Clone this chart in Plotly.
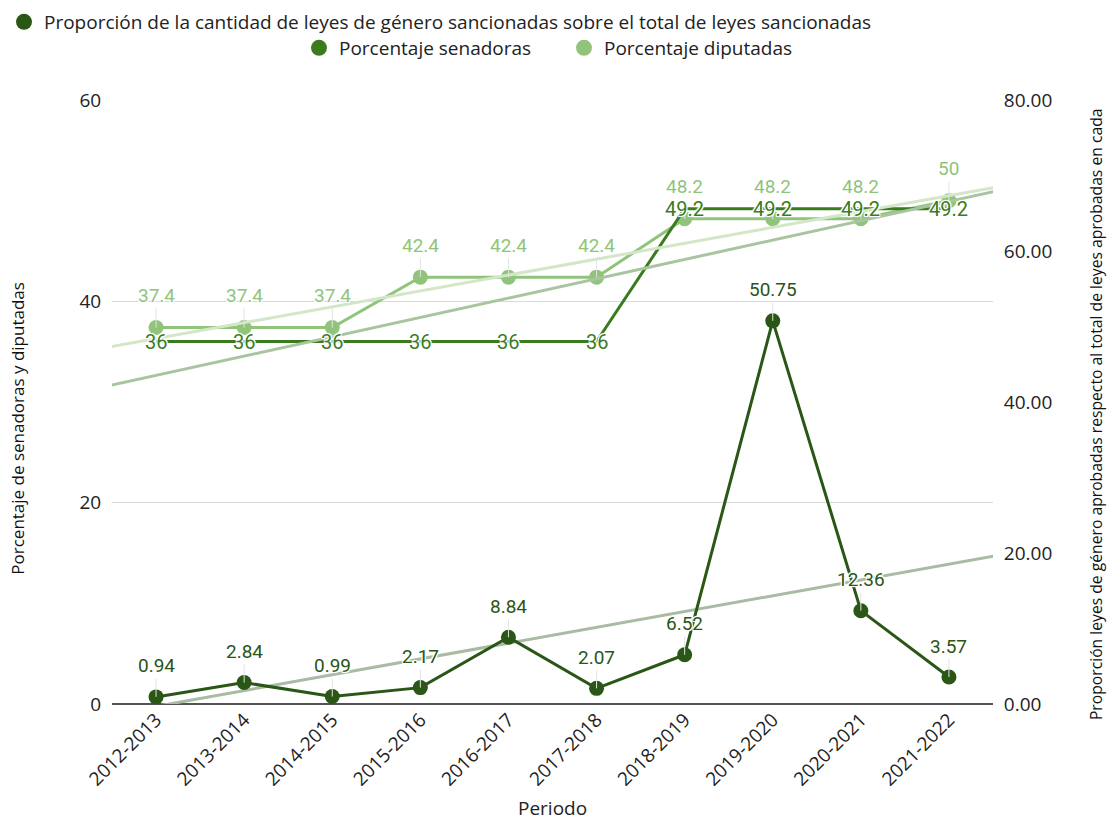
import numpy as np
import plotly.graph_objects as go

periodos = ["2012-2013", "2013-2014", "2014-2015", "2015-2016", "2016-2017",
            "2017-2018", "2018-2019", "2019-2020", "2020-2021", "2021-2022"]
proporcion = [0.94, 2.84, 0.99, 2.17, 8.84, 2.07, 6.52, 50.75, 12.36, 3.57]
senadoras = [36, 36, 36, 36, 36, 36, 49.2, 49.2, 49.2, 49.2]
diputadas = [37.4, 37.4, 37.4, 42.4, 42.4, 42.4, 48.2, 48.2, 48.2, 50]

C_PROP = "#2a5616"
C_SEN = "#3a7b1e"
C_DIP = "#8fc47a"
C_T_DIP = "#d3e6c6"
C_T_SEN = "#a9c5a0"
C_T_PROP = "#a9bba2"
FONT = "Open Sans"
LABEL_FONT = "Roboto"
HALO = "-1px -1px 0 #fff, 1px -1px 0 #fff, -1px 1px 0 #fff, 1px 1px 0 #fff, 0 0 3px #fff"

xs = np.arange(len(periodos))
xt = np.array([-0.6, len(periodos) - 0.4])


def trend(vals):
    m, b = np.polyfit(xs, vals, 1)
    return m * xt + b


fig = go.Figure()

fig.add_trace(go.Scatter(x=xs, y=diputadas, mode="lines+markers", line=dict(color=C_DIP, width=3),
                         marker=dict(size=15, color=C_DIP), showlegend=False, name="Porcentaje diputadas"))
fig.add_trace(go.Scatter(x=xs, y=senadoras, mode="lines", line=dict(color=C_SEN, width=3),
                         showlegend=False, name="Porcentaje senadoras"))
fig.add_trace(go.Scatter(x=xt, y=trend(diputadas), mode="lines", line=dict(color=C_T_DIP, width=3),
                         showlegend=False, hoverinfo="skip"))
fig.add_trace(go.Scatter(x=xt, y=trend(senadoras), mode="lines", line=dict(color=C_T_SEN, width=3),
                         showlegend=False, hoverinfo="skip"))
fig.add_trace(go.Scatter(x=xt, y=trend(proporcion), mode="lines", line=dict(color=C_T_PROP, width=3),
                         yaxis="y2", showlegend=False, hoverinfo="skip"))
fig.add_trace(go.Scatter(x=xs, y=proporcion, mode="lines+markers", line=dict(color=C_PROP, width=3),
                         marker=dict(size=15, color=C_PROP), yaxis="y2", showlegend=False,
                         name="Proporción"))

fig.add_trace(go.Scatter(x=[None], y=[None], mode="markers", marker=dict(size=20, color=C_PROP),
                         name="Proporción de la cantidad de leyes de género sancionadas sobre el total de leyes sancionadas",
                         legend="legend"))
fig.add_trace(go.Scatter(x=[None], y=[None], mode="markers", marker=dict(size=20, color=C_SEN),
                         name="Porcentaje senadoras", legend="legend2"))
fig.add_trace(go.Scatter(x=[None], y=[None], mode="markers", marker=dict(size=20, color=C_DIP),
                         name="Porcentaje diputadas", legend="legend2"))

LBL = 19
annotations = []
for i, v in enumerate(diputadas):
    annotations.append(dict(x=i, y=v, xref="x", yref="y", text=f"{v:g}", showarrow=True,
                            arrowhead=0, arrowwidth=1, arrowcolor="#e2e2e2", ax=0, ay=-32,
                            font=dict(family=LABEL_FONT, size=LBL, color=C_DIP, shadow=HALO)))
for i, v in enumerate(senadoras):
    annotations.append(dict(x=i, y=v, xref="x", yref="y", text=f"{v:g}", showarrow=False,
                            font=dict(family=LABEL_FONT, size=LBL + 1, color=C_SEN, shadow=HALO)))
for i, v in enumerate(proporcion):
    annotations.append(dict(x=i, y=v, xref="x", yref="y2", text=f"{v:.2f}", showarrow=True,
                            arrowhead=0, arrowwidth=1, arrowcolor="#e2e2e2", ax=0, ay=-31,
                            font=dict(family=LABEL_FONT, size=LBL, color=C_PROP, shadow=HALO)))

# axis titles
annotations.append(dict(text="Porcentaje de senadoras y diputadas", xref="paper", yref="paper",
                        x=-0.107, y=0.457, xanchor="center", yanchor="middle",
                        showarrow=False, textangle=-90, font=dict(size=17, color="#111")))
annotations.append(dict(text="Proporción leyes de género aprobadas respecto al total de leyes aprobadas en cada",
                        xref="paper", yref="paper", x=1.1169, y=0.48, xanchor="center", yanchor="middle",
                        showarrow=False, textangle=-90, font=dict(size=15.7, color="#111")))
annotations.append(dict(text="Periodo", xref="paper", yref="paper", x=0.5, y=-0.1722,
                        xanchor="center", yanchor="middle",
                        showarrow=False, font=dict(size=19, color="#222")))

W, H = 1107, 821
fig.update_layout(
    width=W, height=H,
    margin=dict(l=112, r=114, t=100, b=117, autoexpand=False),
    plot_bgcolor="white", paper_bgcolor="white",
    font=dict(family=FONT, size=19, color="#222"),
    annotations=annotations,
    legend=dict(orientation="h", xref="container", x=4 / W, xanchor="left",
                yref="container", y=1 - 3 / H, yanchor="top", bgcolor="rgba(0,0,0,0)",
                font=dict(size=19, color="#222")),
    legend2=dict(orientation="h", xref="container", x=299 / W, xanchor="left",
                 yref="container", y=1 - 29 / H, yanchor="top", bgcolor="rgba(0,0,0,0)",
                 entrywidth=220, entrywidthmode="pixels",
                 font=dict(size=19, color="#222")),
    xaxis=dict(range=[-0.5, len(periodos) - 0.5], tickvals=xs, ticktext=periodos, tickangle=-45,
               showgrid=False, zeroline=False, showline=False, ticks="", automargin=False,
               tickfont=dict(size=19)),
    yaxis=dict(range=[0, 60], dtick=20, showgrid=True, gridcolor="#d9d9d9", gridwidth=1,
               zeroline=True, zerolinecolor="#555", zerolinewidth=1.5, showline=False,
               tickfont=dict(size=19), ticksuffix="  ", automargin=False),
    yaxis2=dict(range=[0, 80], dtick=20, tickformat=".2f", overlaying="y", side="right",
                showgrid=False, zeroline=False, showline=False, tickfont=dict(size=19),
                tickprefix="  ", automargin=False),
)

fig.write_html("out.html", config={"displayModeBar": False},
               post_script="document.body.style.margin='0px'; document.body.style.overflow='hidden';")
